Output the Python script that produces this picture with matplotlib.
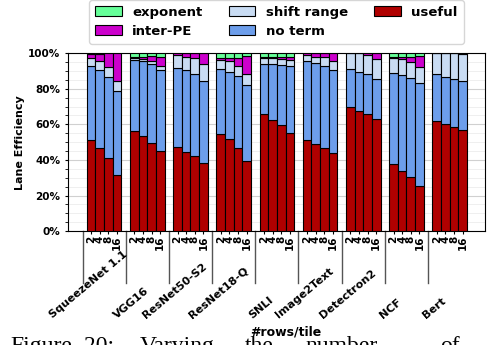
import numpy as np
import matplotlib
matplotlib.use("Agg")
import matplotlib.pyplot as plt
import matplotlib.transforms as mtransforms

models = ["SqueezeNet 1.1", "VGG16", "ResNet50-S2", "ResNet18-Q", "SNLI",
          "Image2Text", "Detectron2", "NCF", "Bert"]
rows = ["2", "4", "8", "16"]

# percent of lanes, per model, for 2/4/8/16 rows per tile
useful = [[51.0, 46.8, 41.0, 31.5],
          [56.4, 53.4, 49.6, 45.0],
          [47.0, 44.7, 42.3, 38.5],
          [54.7, 51.7, 46.8, 39.4],
          [66.0, 62.3, 59.4, 55.3],
          [51.0, 48.7, 46.8, 44.0],
          [69.8, 67.7, 66.0, 63.2],
          [37.7, 34.0, 30.2, 25.5],
          [61.7, 60.0, 58.5, 57.0]]
no_term = [[41.5, 43.8, 45.4, 47.2],
           [39.8, 41.9, 44.2, 45.8],
           [44.9, 45.7, 45.8, 45.8],
           [36.4, 37.9, 40.2, 42.5],
           [28.0, 31.5, 34.0, 37.5],
           [44.3, 45.6, 46.2, 46.4],
           [21.2, 21.9, 22.1, 22.1],
           [51.0, 53.7, 56.0, 57.5],
           [26.4, 26.8, 27.0, 27.2]]
shift_range = [[4.5, 5.2, 5.6, 5.8],
               [1.0, 1.5, 1.9, 1.7],
               [6.8, 7.6, 8.9, 9.7],
               [4.9, 6.1, 6.0, 6.6],
               [3.2, 3.4, 3.4, 3.6],
               [3.4, 3.8, 4.7, 5.3],
               [9.0, 10.4, 10.9, 11.5],
               [8.5, 8.9, 8.7, 9.1],
               [11.9, 13.2, 14.5, 15.2]]
inter_pe = [[2.7, 3.7, 8.0, 15.5],
            [0.9, 1.2, 2.8, 5.5],
            [1.3, 2.0, 3.0, 6.0],
            [1.0, 1.5, 4.5, 10.0],
            [0.5, 0.5, 1.0, 1.6],
            [1.3, 1.9, 2.3, 4.3],
            [0.0, 0.0, 1.0, 3.2],
            [0.8, 1.1, 3.2, 6.4],
            [0.0, 0.0, 0.0, 0.6]]
exponent = [[0.3, 0.5, 0.0, 0.0],
            [1.9, 2.0, 1.5, 2.0],
            [0.0, 0.0, 0.0, 0.0],
            [3.0, 2.8, 2.5, 1.5],
            [2.3, 2.3, 2.2, 2.0],
            [0.0, 0.0, 0.0, 0.0],
            [0.0, 0.0, 0.0, 0.0],
            [2.0, 2.3, 1.9, 1.5],
            [0.0, 0.0, 0.0, 0.0]]

caption = ["Figure", "20:", "Varying", "the", "number", "of"]

series = [("useful", useful, "#b00000"),
          ("no term", no_term, "#6d9eeb"),
          ("shift range", shift_range, "#c9dcf3"),
          ("inter-PE", inter_pe, "#cc00cc"),
          ("exponent", exponent, "#66ff99")]

fig = plt.figure(figsize=(4.88, 3.45), dpi=100)
ax = fig.add_axes([0.139, 0.330, 0.855, 0.516])

ng = len(models)
nb = len(rows)
x = []
for g in range(ng):
    for i in range(nb):
        x.append(g * (nb + 1) + i + 0.5)
x = np.array(x)

bottom = np.zeros(len(x))
handles = {}
for name, vals, col in series:
    v = np.array(vals).flatten()
    b = ax.bar(x, v, width=1.0, bottom=bottom, color=col, edgecolor="black",
               linewidth=0.8, label=name, zorder=3)
    handles[name] = b
    bottom += v

ax.set_ylim(0, 100)
ax.set_xlim(-2.2, ng * (nb + 1) - 1 + 2.1)
ax.set_yticks(np.arange(0, 101, 20))
ax.set_yticks(np.arange(0, 101, 5), minor=True)
ax.set_yticklabels([f"{t}%" for t in range(0, 101, 20)], fontsize=7.5,
                   fontweight="bold")
ax.grid(axis="y", which="major", color="#d0d0d0", linewidth=0.8, zorder=0)
ax.grid(axis="y", which="minor", color="#ececec", linewidth=0.6, zorder=0)
ax.set_ylabel("Lane Efficiency", fontsize=8, fontweight="bold", labelpad=2)

ax.set_xticks(x)
ax.set_xticklabels(rows * ng, rotation=90, fontsize=7.5, fontweight="bold")
ax.tick_params(axis="x", length=2, pad=1)
ax.tick_params(axis="y", which="both", length=2)

trans = mtransforms.blended_transform_factory(ax.transData, ax.transAxes)
for g in range(ng):
    sep = g * (nb + 1) - 0.5
    ax.plot([sep, sep], [0, -0.29], transform=trans, color="#555555",
            linewidth=1.0, clip_on=False)
    ax.text(g * (nb + 1) + 0.2, -0.50, models[g], transform=trans,
            rotation=40, ha="center", va="bottom", fontsize=8,
            fontweight="bold")

ax.text(0.523, -0.567, "#rows/tile", transform=ax.transAxes, ha="center",
        va="center", fontsize=9, fontweight="bold")

order = ["exponent", "inter-PE", "shift range", "no term", "useful"]
ax.legend([handles[n] for n in order], order, ncol=3, loc="lower center",
          bbox_to_anchor=(0.5, 1.015), prop={"weight": "bold", "size": 9.5},
          handlelength=2.0, handleheight=0.8, columnspacing=2.0,
          borderpad=0.45, labelspacing=0.45)

# justified caption line, cut off by the bottom edge as in the source
cap_x = [10, 84, 140, 245, 305, 440]
for word, cx in zip(caption, cap_x):
    fig.text(cx / 488, -7 / 345, word, family="Liberation Serif",
             fontsize=17, va="baseline", ha="left")

fig.savefig("out.png", dpi=100)
